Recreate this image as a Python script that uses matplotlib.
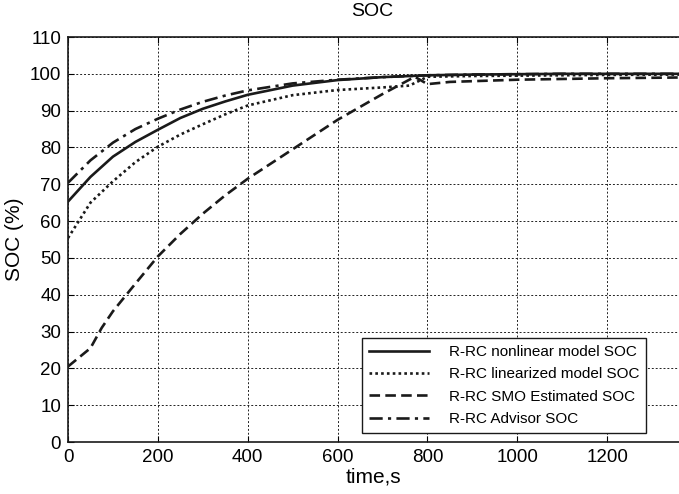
import matplotlib
matplotlib.use("Agg")
from matplotlib import pyplot as plt
import numpy as np

plt.rcParams['font.family'] = ['Liberation Sans', 'DejaVu Sans']

# time axis (s)
t = [0, 50, 100, 150, 200, 250, 300, 350, 400, 500, 600, 700, 760, 800, 900, 1000, 1100, 1200, 1360]

soc_nonlinear = [65.3, 72.0, 77.5, 81.5, 84.8, 88.0, 90.5, 92.5, 94.3, 96.8, 98.3, 99.1, 99.4, 99.6, 99.8, 99.9, 100, 100, 100]
soc_linearized = [55.4, 65.0, 70.8, 76.0, 80.2, 83.5, 86.3, 89.0, 91.4, 94.2, 95.6, 96.3, 96.8, 99.2, 99.4, 99.5, 99.6, 99.7, 99.8]
soc_advisor = [70.4, 76.5, 81.3, 85.0, 87.8, 90.3, 92.4, 94.1, 95.5, 97.4, 98.4, 99.1, 99.4, 99.6, 99.8, 99.9, 100, 100, 100]

t_smo = [0, 50, 75, 100, 150, 200, 250, 300, 350, 400, 450, 500, 550, 600, 650, 700, 772, 800, 850, 900, 1000, 1100, 1200, 1360]
soc_smo = [20.5, 25.5, 31.0, 35.5, 43.0, 50.4, 56.5, 62.0, 67.0, 71.5, 75.5, 79.5, 83.5, 87.5, 91.0, 94.5, 99.2, 97.2, 97.8, 98.0, 98.4, 98.6, 98.8, 99.0]

labels = ['R-RC nonlinear model SOC', 'R-RC linearized model SOC',
          'R-RC SMO Estimated SOC', 'R-RC Advisor SOC']

fig = plt.figure(figsize=(6.79, 4.94), dpi=100)
ax = fig.add_axes([68 / 679, 52 / 494, 1 - 68 / 679, 405 / 494])

ax.plot(t, soc_nonlinear, color='#1a1a1a', lw=1.9, ls='-', label=labels[0])
ax.plot(t, soc_linearized, color='#1a1a1a', lw=1.9, ls=(0, (1, 1.2)), label=labels[1])
ax.plot(t_smo, soc_smo, color='#1a1a1a', lw=1.9, ls=(0, (4, 2)), label=labels[2])
ax.plot(t, soc_advisor, color='#1a1a1a', lw=1.9, ls=(0, (5, 2, 1.2, 2)), label=labels[3])

ax.set_xlim(0, 1360)
ax.set_ylim(0, 110)
ax.set_xticks(np.arange(0, 1201, 200))
ax.set_yticks(np.arange(0, 111, 10))
ax.grid(True, color='#222222', ls=(0, (2, 2)), lw=0.7)
ax.tick_params(direction='in', length=4, labelsize=13.5, top=True, pad=5)
ax.spines['right'].set_visible(False)
for s in ['left', 'bottom', 'top']:
    ax.spines[s].set_linewidth(1.2)
    ax.spines[s].set_color('#1a1a1a')

ax.set_xlabel('time,s', fontsize=15, labelpad=1)
ax.set_ylabel('SOC (%)', fontsize=15, labelpad=4)
fig.text(372 / 679, 1 - 12 / 494, 'SOC', ha='center', va='center', fontsize=14)

leg = ax.legend(loc='lower right', bbox_to_anchor=(646 / 679, 61 / 494),
                bbox_transform=fig.transFigure, fontsize=11, fancybox=False,
                edgecolor='#1a1a1a', framealpha=1, borderaxespad=0,
                handlelength=3.9, handletextpad=1.3, labelspacing=0.55,
                borderpad=0.45)
leg.get_frame().set_linewidth(1.0)

fig.savefig('out.png', dpi=100)
